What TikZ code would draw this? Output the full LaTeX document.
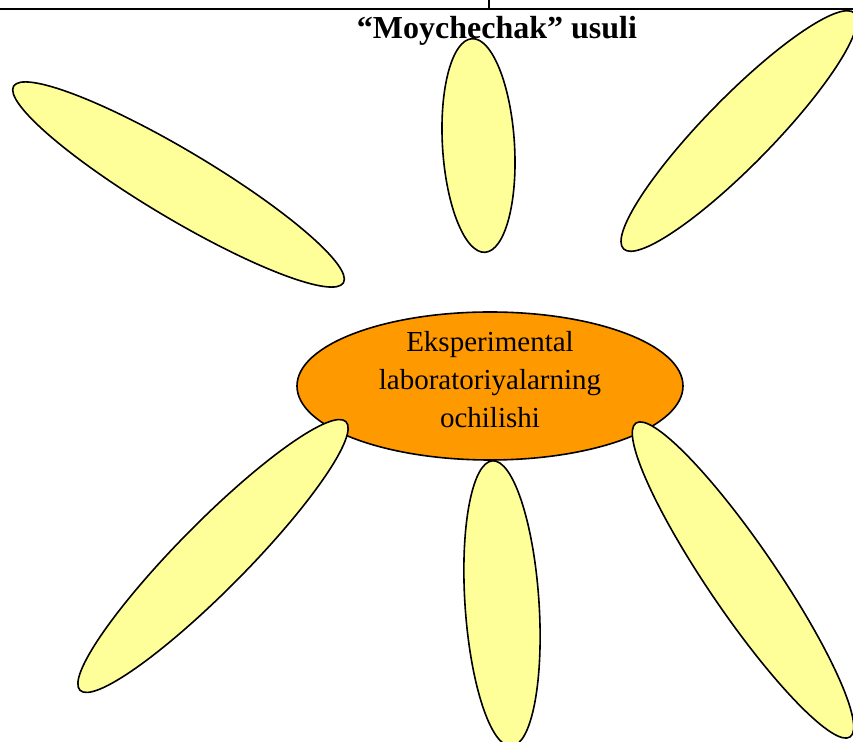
\documentclass[tikz,border=0pt]{standalone}
\usepackage{fontspec}
\setmainfont{Liberation Serif}
\usepackage{xcolor}
\definecolor{petalyellow}{RGB}{255, 255, 153}
\definecolor{coreorange}{RGB}{255, 153, 0}
\usepackage{tikz}
\usetikzlibrary{shapes.geometric}

\begin{document}
\begin{tikzpicture}[x=0.5pt, y=-0.5pt,
    petal/.style={ellipse, draw=black, line width=0.8pt, fill=petalyellow, inner sep=0pt}]
      \useasboundingbox (0,0) rectangle (853,742);

      \coordinate (L) at (0, 9.5);
      \coordinate (R) at (853, 9.5);
      \coordinate (T) at (489, 0);
      \coordinate (M) at (489, 9.5);

      \draw[line width=1pt] (L)--(R);
      \draw[line width=1pt] (T)--(M);

      \node[ellipse, draw=black, line width=0.8pt, fill=coreorange, inner sep=0pt,
            minimum width=193pt, minimum height=74pt] (core) at (490, 386) {};
      \node[align=center, inner sep=0pt, font=\fontsize{14.5}{19}\selectfont]
            (coretext) at ([yshift=3pt]core.center)
            {Eksperimental\\laboratoriyalarning\\ochilishi};

      \node[petal, minimum width=192pt, minimum height=34pt, rotate=-30.8] (upleft) at (178.5, 184.5) {};
      \node[petal, minimum width=107pt, minimum height=36pt, rotate=93.5] (upmid) at (478.5, 145.5) {};
      \node[petal, minimum width=165pt, minimum height=34pt, rotate=45.6] (upright) at (739, 131) {};
      \node[petal, minimum width=189pt, minimum height=34pt, rotate=45.3] (lowleft) at (213, 556) {};
      \node[petal, minimum width=143pt, minimum height=37pt, rotate=93.8] (lowmid) at (502, 603.5) {};
      \node[petal, minimum width=190pt, minimum height=34pt, rotate=-55.7] (lowright) at (743, 580) {};

      \node[anchor=base, font=\fontsize{16}{19}\selectfont\bfseries] (title) at (497, 39)
            {“Moychechak” usuli};
    \end{tikzpicture}
\end{document}
